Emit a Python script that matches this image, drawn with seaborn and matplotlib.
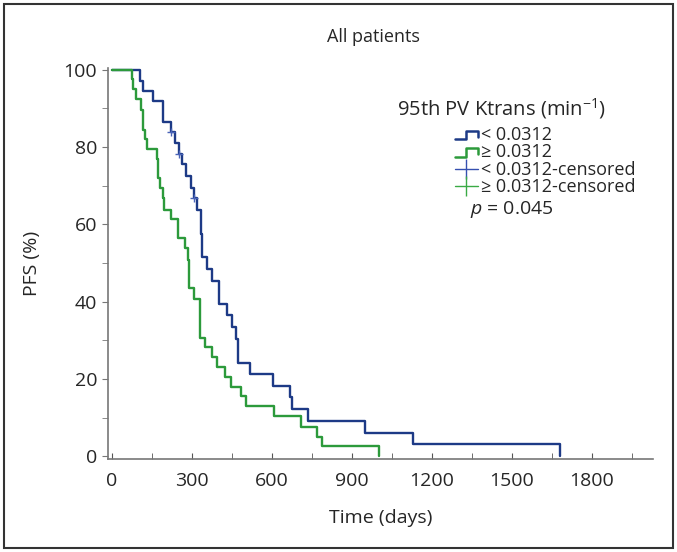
import numpy as np
import pandas as pd
import seaborn as sns
import matplotlib
matplotlib.use('Agg')
import matplotlib.pyplot as plt
from matplotlib.lines import Line2D
from matplotlib.patches import Rectangle
from matplotlib.legend_handler import HandlerLine2D
from matplotlib.ticker import MultipleLocator

# Kaplan-Meier steps (day, PFS %)
low_days = [0, 106, 119, 155, 194, 224, 236, 251, 265, 280, 296, 309, 319, 334, 340,
            359, 377, 402, 434, 452, 465, 474, 517, 605, 667, 677, 736, 949, 1131, 1680]
low_pfs = [100, 97.2, 94.6, 92.0, 86.5, 83.8, 81.0, 78.2, 75.6, 72.4, 69.5, 66.8, 63.7, 57.5, 51.5,
           48.4, 45.4, 39.5, 36.5, 33.5, 30.2, 24.2, 21.2, 18.1, 15.2, 12.1, 9.1, 6.1, 3.1, 0]
high_days = [0, 75, 80, 93, 111, 119, 127, 134, 169, 174, 181, 192, 196, 221, 249, 277,
             287, 292, 309, 331, 349, 377, 396, 425, 449, 484, 502, 609, 709, 771, 790, 1003]
high_pfs = [100, 97.6, 95.0, 92.4, 89.6, 84.5, 82.0, 79.5, 76.9, 71.9, 69.4, 66.8, 63.7, 61.3, 56.4, 53.8,
            50.8, 43.4, 40.8, 30.7, 28.3, 25.6, 23.0, 20.4, 18.0, 15.5, 13.0, 10.4, 7.6, 5.0, 2.6, 0]
low_cens_days = [224, 251, 309]
low_cens_pfs = [83.8, 78.2, 66.8]

groups = ['< 0.0312', '≥ 0.0312']
labels = ['< 0.0312', '≥ 0.0312', '< 0.0312-censored', '≥ 0.0312-censored']
blue = '#1d3a86'
green = '#2c9a3b'

df = pd.concat([
    pd.DataFrame({'day': low_days, 'pfs': low_pfs, 'group': groups[0]}),
    pd.DataFrame({'day': high_days, 'pfs': high_pfs, 'group': groups[1]}),
])
cens = pd.DataFrame({'day': low_cens_days, 'pfs': low_cens_pfs, 'group': groups[0]})

sns.set_style('ticks')
plt.rcParams['font.family'] = ['Open Sans', 'DejaVu Sans']
plt.rcParams['mathtext.fontset'] = 'custom'
plt.rcParams['mathtext.rm'] = 'Open Sans'
plt.rcParams['mathtext.it'] = 'Open Sans:italic'

fig = plt.figure(figsize=(6.77, 5.52), dpi=100)
ax = fig.add_axes([0.16, 0.168, 0.805, 0.709])

sns.lineplot(data=df, x='day', y='pfs', hue='group', palette=[blue, green],
             drawstyle='steps-post', estimator=None, linewidth=1.7, legend=False, ax=ax)
sns.scatterplot(data=cens, x='day', y='pfs', color='#4a64b8', marker='+', s=40,
                linewidth=1, legend=False, ax=ax, zorder=3)

ax.set_xlim(-12, 2030)
ax.set_ylim(-0.8, 100.5)
ax.xaxis.set_major_locator(MultipleLocator(300))
ax.xaxis.set_minor_locator(MultipleLocator(150))
ax.yaxis.set_major_locator(MultipleLocator(20))
ax.yaxis.set_minor_locator(MultipleLocator(10))
ax.tick_params(axis='x', which='both', direction='in', length=4, color='#555', pad=9, labelsize=14)
ax.tick_params(axis='y', which='both', direction='out', length=4, color='#777', pad=4, labelsize=14)
for s in ['top', 'right']:
    ax.spines[s].set_visible(False)
for s in ['left', 'bottom']:
    ax.spines[s].set_color('#777')
    ax.spines[s].set_linewidth(1.2)

ax.set_xlabel('Time (days)', fontsize=14, labelpad=14)
ax.set_ylabel('PFS (%)', fontsize=14, labelpad=16)
fig.text(373 / 677, 1 - 37 / 552, 'All patients', fontsize=13, ha='center', va='center')


class StepHandler(HandlerLine2D):
    def create_artists(self, legend, orig_handle, xdescent, ydescent, width, height, fontsize, trans):
        x0, y0 = -xdescent, -ydescent
        xs = [x0, x0 + 0.5 * width, x0 + 0.5 * width, x0 + width, x0 + width]
        ys = [y0 + 0.05 * height, y0 + 0.05 * height, y0 + 0.75 * height, y0 + 0.75 * height, y0 + 0.25 * height]
        line = Line2D(xs, ys, color=orig_handle.get_color(), lw=orig_handle.get_linewidth())
        line.set_transform(trans)
        return [line]


h_low = Line2D([], [], color=blue, lw=1.8)
h_high = Line2D([], [], color=green, lw=1.8)
h_low_c = Line2D([], [], color='#3550b0', lw=1.0, marker='|', markersize=14, markeredgewidth=1.0)
h_high_c = Line2D([], [], color='#3aaa45', lw=1.0, marker='|', markersize=14, markeredgewidth=1.0)
ax.legend([h_low, h_high, h_low_c, h_high_c], labels,
          handler_map={h_low: StepHandler(), h_high: StepHandler()},
          loc='upper left', bbox_to_anchor=(455 / 677, 1 - 126 / 552), bbox_transform=fig.transFigure,
          frameon=False, fontsize=13, borderpad=0, borderaxespad=0, handlelength=1.25,
          handletextpad=0.2, labelspacing=-0.03)

fig.text(397 / 677, 1 - 109 / 552, '95th PV Ktrans (min$^{-1}$)', fontsize=14.5, va='center')
fig.text(470 / 677, 1 - 210 / 552, '$p$ = 0.045', fontsize=14, va='center')

fig.patches.append(Rectangle((0.006, 0.008), 0.988, 0.984, transform=fig.transFigure,
                             fill=False, lw=1.5, edgecolor='#333'))

fig.savefig('out.png', dpi=100)
